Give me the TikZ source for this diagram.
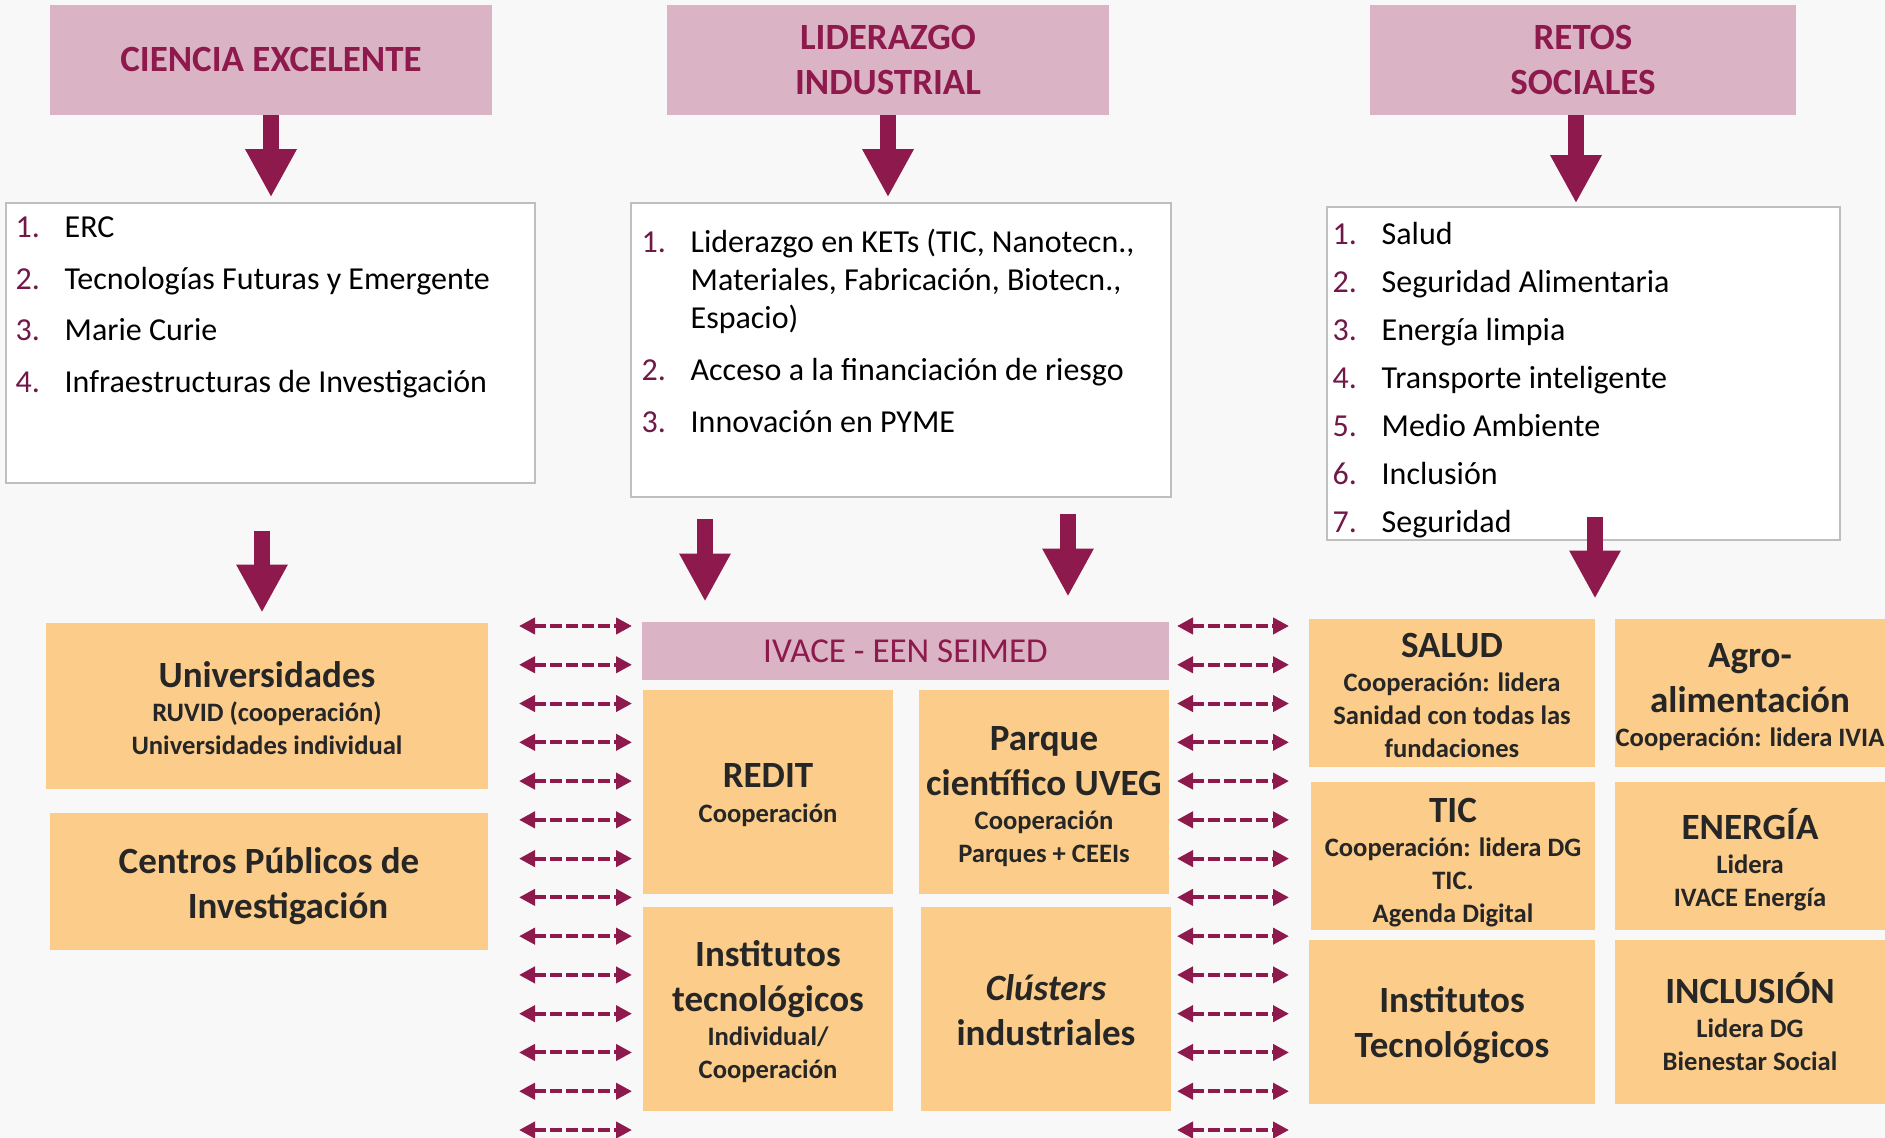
\documentclass[tikz,border=0pt]{standalone}
\usepackage{fontspec}
\setmainfont{Carlito}
\usetikzlibrary{arrows.meta,positioning,calc}

\definecolor{vino}{RGB}{142,25,77}
\definecolor{numcol}{RGB}{112,24,72}
\definecolor{rosa}{RGB}{218,180,197}
\definecolor{naranja}{RGB}{251,204,138}
\definecolor{fondo}{RGB}{248,248,248}
\definecolor{borde}{RGB}{191,191,191}
\definecolor{texto}{RGB}{38,38,38}

\newcommand{\nr}[1]{\makebox[24.5pt][l]{\color{numcol}#1}}
\newcommand{\tit}[2][0pt]{{\fontsize{18.5}{22.5}\selectfont\rule{0pt}{#1}#2}}

\tikzset{
  pilar/.style={fill=rosa, text=vino, align=center, inner sep=0pt,
    font=\bfseries\fontsize{18.5}{22.5}\selectfont},
  lista/.style={draw=borde, fill=white, line width=0.75pt, inner sep=0pt},
  listatxt/.style={inner sep=0pt, align=left, font=\fontsize{16}{19}\selectfont},
  agente/.style={fill=naranja, text=texto, align=center, inner sep=0pt,
    font={\bfseries\fontsize{13.3}{16.5}\selectfont\lineskiplimit=-50pt}},
  flecha/.style={draw=vino, line width=8pt, -{Triangle[width=24pt,length=24pt]}},
  doble/.style={draw=vino, line width=2pt, dash pattern=on 6pt off 2pt,
    {Triangle[width=8pt,length=8pt]}-{Triangle[width=8pt,length=8pt]}}
}

\begin{document}
\begin{tikzpicture}[x=0.5pt, y=-0.5pt]
\pgfmathsetmacro{\paso}{38.77}
\fill[fondo] (0,0) rectangle (1885,1138);
\useasboundingbox (0,0) rectangle (1885,1138);

% pilares
\node[pilar, minimum width=221pt, minimum height=55pt] (ciencia) at (271,60) {CIENCIA EXCELENTE};
\node[pilar, minimum width=221pt, minimum height=55pt] (liderazgo) at (888,60) {LIDERAZGO\\INDUSTRIAL};
\node[pilar, minimum width=213pt, minimum height=55pt] (retos) at (1583,60) {RETOS\\SOCIALES};

% listas
\node[lista, minimum width=264.5pt, minimum height=140pt] (list1) at (270.5,343) {};
\node[lista, minimum width=270pt, minimum height=147pt] (list2) at (901,350) {};
\node[lista, minimum width=256.5pt, minimum height=166.5pt] (list3) at (1583.5,373.5) {};

\node[listatxt, below right=7pt and 5pt of list1.north west] (items1) {%
\nr{1.}ERC\\[6.85pt]
\nr{2.}Tecnologías Futuras y Emergente\\[6.85pt]
\nr{3.}Marie Curie\\[6.85pt]
\nr{4.}Infraestructuras de Investigación};
\node[listatxt, below right=13pt and 5.5pt of list2.north west] (items2) {%
\nr{1.}Liderazgo en KETs (TIC, Nanotecn.,\\
\nr{}Materiales, Fabricación, Biotecn.,\\
\nr{}Espacio)\\[7pt]
\nr{2.}Acceso a la financiación de riesgo\\[7pt]
\nr{3.}Innovación en PYME};
\node[listatxt, below right=8pt and 3pt of list3.north west] (items3) {%
\nr{1.}Salud\\[5pt]
\nr{2.}Seguridad Alimentaria\\[5pt]
\nr{3.}Energía limpia\\[5pt]
\nr{4.}Transporte inteligente\\[5pt]
\nr{5.}Medio Ambiente\\[5pt]
\nr{6.}Inclusión\\[5pt]
\nr{7.}Seguridad};

% agentes
\node[agente, minimum width=221pt, minimum height=83pt] (univ) at (267,706)
  {\tit[14.8pt]{Universidades}\\[0.5pt]RUVID (cooperación)\\Universidades individual};
\node[agente, minimum width=219pt, minimum height=68.5pt] (centros) at (269,881.5)
  {\tit[18.1pt]{Centros Públicos de}\\[6pt]\hspace*{19pt}\tit{Investigación}};

\node[pilar, font=\fontsize{17.5}{21}\selectfont, minimum width=263.5pt, minimum height=29pt] (ivace) at (905.5,651) {IVACE - EEN SEIMED};
\node[agente, minimum width=125pt, minimum height=102pt] (redit) at (768,792)
  {\tit[15.3pt]{REDIT}\\[1pt]Cooperación};
\node[agente, minimum width=125pt, minimum height=102pt] (parque) at (1044,792)
  {\tit[16.5pt]{Parque}\\[6pt]\tit{científico UVEG}\\[0.5pt]Cooperación\\Parques + CEEIs};
\node[agente, minimum width=125pt, minimum height=102pt] (institutos) at (768,1009)
  {\tit[15.9pt]{Institutos}\\[6pt]\tit{tecnológicos}\\[0.5pt]Individual/\\Cooperación};
\node[agente, minimum width=125pt, minimum height=102pt] (clusters) at (1046,1009)
  {\tit[14.5pt]{\itshape Clústers}\\[6pt]\tit{industriales}};

\node[agente, minimum width=143pt, minimum height=74pt] (salud) at (1452,693)
  {\tit[14.7pt]{SALUD}\\[0.5pt]Cooperación: lidera\\Sanidad con todas las\\fundaciones};
\node[agente, minimum width=135pt, minimum height=74pt] (agro) at (1750,693)
  {\tit[16.5pt]{Agro-}\\[6pt]\tit{alimentación}\\[0.5pt]Cooperación: lidera IVIA};
\node[agente, minimum width=142pt, minimum height=74pt] (tic) at (1453,856)
  {\tit[18.9pt]{TIC}\\[0.5pt]Cooperación: lidera DG\\TIC.\\Agenda Digital};
\node[agente, minimum width=135pt, minimum height=74pt] (energia) at (1750,856)
  {\tit[19.4pt]{ENERGÍA}\\[0.5pt]Lidera\\IVACE Energía};
\node[agente, minimum width=143pt, minimum height=82pt] (insttec) at (1452,1022)
  {\tit[16.1pt]{Institutos}\\[6pt]\tit{Tecnológicos}};
\node[agente, minimum width=135pt, minimum height=82pt] (inclusion) at (1750,1022)
  {\tit{INCLUSIÓN}\\[0.5pt]Lidera DG\\Bienestar Social};

% flechas de los pilares
\draw[flecha, shorten >=2.5pt] (ciencia.south) -- (ciencia.south |- list1.north);
\draw[flecha, shorten >=2.5pt] (liderazgo.south) -- (liderazgo.south |- list2.north);
\draw[flecha, shorten >=1.5pt] ([xshift=-3.5pt]retos.south) -- ([xshift=-3.5pt]retos.south |- list3.north);

% flechas hacia los agentes
\coordinate (s1) at (262,531);
\coordinate (s2) at (705,519);
\coordinate (s3) at (1068,514);
\coordinate (s4) at (1595,517);
\draw[flecha, shorten >=5pt] (s1) -- (s1 |- univ.north);
\draw[flecha, shorten >=10pt] (s2) -- (s2 |- ivace.north);
\draw[flecha, shorten >=12.5pt] (s3) -- (s3 |- ivace.north);
\draw[flecha, shorten >=10pt] (s4) -- (s4 |- salud.north);

% cooperacion
\foreach \i in {0,...,13}{
  \pgfmathsetmacro{\fila}{626+\paso*\i}
  \coordinate (ia\i) at (519,\fila);
  \coordinate (ib\i) at (632,\fila);
  \coordinate (da\i) at (1177,\fila);
  \coordinate (db\i) at (1289,\fila);
  \draw[doble] (ia\i) -- (ib\i);
  \draw[doble] (da\i) -- (db\i);
}
\end{tikzpicture}
\end{document}
